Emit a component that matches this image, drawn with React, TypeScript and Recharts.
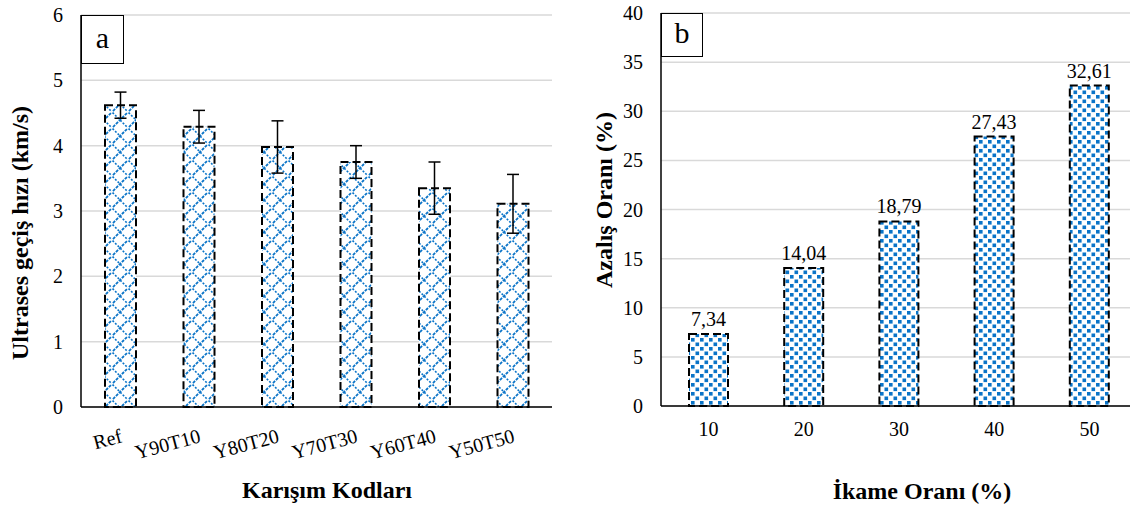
import React from "react";
import {
  BarChart,
  Bar,
  XAxis,
  YAxis,
  CartesianGrid,
  ErrorBar,
  LabelList,
} from "recharts";

const mixCodes = ["Ref", "Y90T10", "Y80T20", "Y70T30", "Y60T40", "Y50T50"];
const upvValues = [4.62, 4.29, 3.98, 3.75, 3.35, 3.11];
const upvErrors = [0.2, 0.25, 0.4, 0.25, 0.4, 0.45];
const upvTicks = [0, 1, 2, 3, 4, 5, 6];

const replaceRates = ["10", "20", "30", "40", "50"];
const reductionValues = [7.34, 14.04, 18.79, 27.43, 32.61];
const reductionTicks = [0, 5, 10, 15, 20, 25, 30, 35, 40];

const FONT = "'Liberation Serif', 'Times New Roman', serif";
const BLUE = "#0A74C8";

const leftData = mixCodes.map((code, i) => ({
  code,
  value: upvValues[i],
  err: upvErrors[i],
}));

const rightData = replaceRates.map((rate, i) => ({
  rate,
  value: reductionValues[i],
}));

const tickStyle = { fontSize: 20, fill: "#000", fontFamily: FONT };

const RotatedTick = (props: any) => {
  const { x, y, payload } = props;
  const tx = x + 3;
  const ty = y + 33;
  return (
    <text
      x={tx}
      y={ty}
      textAnchor="end"
      transform={`rotate(-15 ${tx} ${ty})`}
      fontSize={20}
      fontFamily={FONT}
      fill="#000"
    >
      {payload.value}
    </text>
  );
};

const commaFmt = (v: any) => Number(v).toFixed(2).replace(".", ",");

const titleBase: React.CSSProperties = {
  position: "absolute",
  fontFamily: FONT,
  fontWeight: "bold",
  fontSize: 24,
  lineHeight: 1,
  color: "#000",
  whiteSpace: "nowrap",
  transform: "translate(-50%, -50%)",
};

const panelBox: React.CSSProperties = {
  position: "absolute",
  border: "1.5px solid #000",
  background: "#fff",
  fontFamily: FONT,
  fontSize: 30,
  lineHeight: 1,
  boxSizing: "border-box",
  display: "flex",
  alignItems: "center",
  justifyContent: "center",
  paddingBottom: 4,
};

export default function App() {
  return (
    <div
      style={{
        position: "absolute",
        left: 0,
        top: 0,
        width: 1130,
        height: 506,
        overflow: "hidden",
        background: "#fff",
      }}
    >
      <div style={{ position: "absolute", left: 0, top: 0 }}>
        <BarChart
          width={560}
          height={506}
          data={leftData}
          margin={{ top: 15, right: 8, left: 41, bottom: 39 }}
          barCategoryGap={0}
        >
          <defs>
            <pattern id="lattice" width="16" height="16" patternUnits="userSpaceOnUse">
              <rect width="16" height="16" fill="#fff" />
              <path d="M-2,18 L18,-2" stroke={BLUE} strokeWidth={1.8} strokeDasharray="3 1.2" />
              <path d="M-2,-2 L18,18" stroke={BLUE} strokeWidth={1.6} strokeDasharray="2 1.6" />
            </pattern>
          </defs>
          <CartesianGrid vertical={false} stroke="#d9d9d9" strokeWidth={1.5} />
          <XAxis
            dataKey="code"
            interval={0}
            height={60}
            tickLine={false}
            tickSize={0}
            axisLine={{ stroke: "#000", strokeWidth: 1.5 }}
            tick={<RotatedTick />}
          />
          <XAxis
            xAxisId="top"
            orientation="top"
            dataKey="code"
            height={0}
            tick={false}
            tickLine={false}
            axisLine={{ stroke: "#000", strokeWidth: 1.5 }}
          />
          <YAxis
            domain={[0, 6]}
            ticks={upvTicks}
            width={40}
            tickLine={false}
            tickSize={0}
            tickMargin={18}
            axisLine={{ stroke: "#000", strokeWidth: 1.5 }}
            tick={tickStyle}
          />
          <YAxis
            yAxisId="right"
            orientation="right"
            width={0}
            tick={false}
            tickLine={false}
            axisLine={{ stroke: "#000", strokeWidth: 1.5 }}
          />
          <Bar
            dataKey="value"
            barSize={31}
            fill="url(#lattice)"
            stroke="#000"
            strokeWidth={2}
            strokeDasharray="8 4"
            isAnimationActive={false}
          >
            <ErrorBar dataKey="err" width={6} stroke="#000" strokeWidth={1.5} direction="y" />
          </Bar>
        </BarChart>
      </div>

      <div style={{ position: "absolute", left: 560, top: 0 }}>
        <BarChart
          width={600}
          height={506}
          data={rightData}
          margin={{ top: 13, right: 23, left: 41, bottom: 40 }}
          barCategoryGap={0}
        >
          <defs>
            <pattern id="dots" width="9" height="9" patternUnits="userSpaceOnUse">
              <rect width="9" height="9" fill="#fff" />
              <rect x="0.5" y="0.5" width="3.6" height="3.6" fill={BLUE} />
              <rect x="5" y="5" width="3.6" height="3.6" fill={BLUE} />
            </pattern>
          </defs>
          <CartesianGrid vertical={false} stroke="#d9d9d9" strokeWidth={1.5} />
          <XAxis
            dataKey="rate"
            interval={0}
            height={60}
            tickLine={false}
            tickSize={0}
            tickMargin={16}
            axisLine={{ stroke: "#000", strokeWidth: 1.5 }}
            tick={tickStyle}
          />
          <XAxis
            xAxisId="top"
            orientation="top"
            dataKey="rate"
            height={0}
            tick={false}
            tickLine={false}
            axisLine={{ stroke: "#000", strokeWidth: 1.5 }}
          />
          <YAxis
            domain={[0, 40]}
            ticks={reductionTicks}
            width={60}
            tickLine={false}
            tickSize={0}
            tickMargin={18}
            axisLine={{ stroke: "#000", strokeWidth: 1.5 }}
            tick={tickStyle}
          />
          <Bar
            dataKey="value"
            barSize={39}
            fill="url(#dots)"
            stroke="#000"
            strokeWidth={2}
            strokeDasharray="8 4"
            isAnimationActive={false}
          >
            <LabelList
              dataKey="value"
              position="top"
              offset={8}
              formatter={commaFmt}
              style={{ fontSize: 20, fill: "#000", fontFamily: FONT }}
            />
          </Bar>
        </BarChart>
      </div>

      <div style={{ ...panelBox, left: 81, top: 15, width: 43, height: 49 }}>a</div>
      <div style={{ ...panelBox, left: 661, top: 13, width: 42, height: 44 }}>b</div>

      <div style={{ ...titleBase, left: 327, top: 490 }}>Karışım Kodları</div>
      <div style={{ ...titleBase, left: 922, top: 491 }}>İkame Oranı (%)</div>
      <div
        style={{
          ...titleBase,
          left: 20,
          top: 233,
          transform: "translate(-50%, -50%) rotate(-90deg)",
        }}
      >
        Ultrases geçiş hızı (km/s)
      </div>
      <div
        style={{
          ...titleBase,
          left: 604,
          top: 200,
          transform: "translate(-50%, -50%) rotate(-90deg)",
        }}
      >
        Azalış Oranı (%)
      </div>
    </div>
  );
}
